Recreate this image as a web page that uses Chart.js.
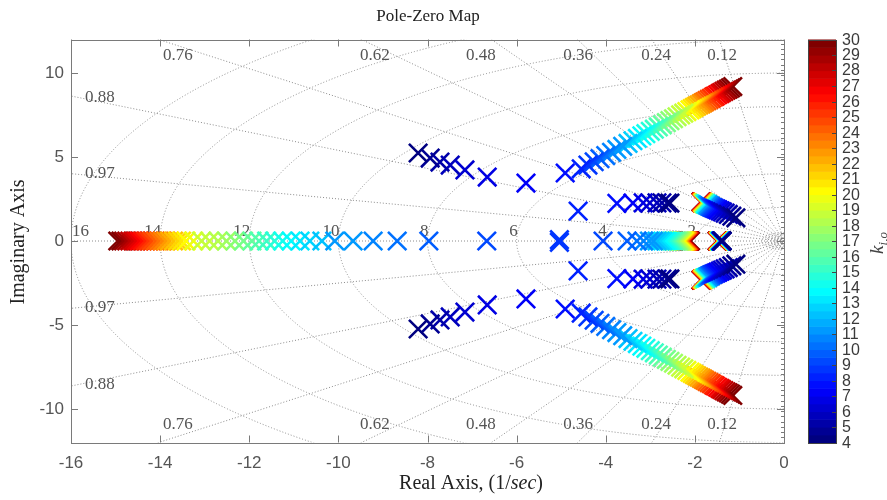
<!DOCTYPE html>
<html>
<head>
<meta charset="utf-8">
<script src="https://cdn.jsdelivr.net/npm/chart.js@4.4.1/dist/chart.umd.min.js"></script>
<style>
  html, body { margin: 0; padding: 0; background: #fff; }
  #wrap { width: 887px; height: 500px; }
</style>
</head>
<body>
<div id="wrap"><canvas id="pz"></canvas></div>
<script>
// gain levels used for the colour of every pole
const kLevels = [4, 4.5, 5, 5.5, 6, 6.5, 7, 7.5, 8, 8.5, 9, 9.5, 10, 10.5, 11, 11.5, 12, 12.5,
  13, 13.5, 14, 14.5, 15, 15.5, 16, 16.5, 17, 17.5, 18, 18.5, 19, 19.5, 20, 20.5, 21, 21.5,
  22, 22.5, 23, 23.5, 24, 24.5, 25, 25.5, 26, 26.5, 27, 27.5, 28, 28.5, 29, 29.5, 30];

// long diagonal pair (k = 4 .. 30), imaginary part shown for the upper pole
const diagRe = [-8.21, -7.94, -7.72, -7.49, -7.16, -6.66, -5.79, -4.91,
  -4.55, -4.40, -4.26, -4.13, -4.00, -3.87, -3.75, -3.62, -3.50, -3.39,
  -3.29, -3.19, -3.10, -3.00, -2.91, -2.82, -2.73, -2.64, -2.56, -2.48,
  -2.40, -2.32, -2.25, -2.18, -2.11, -2.06, -2.01, -1.96, -1.91, -1.86,
  -1.82, -1.78, -1.73, -1.68, -1.63, -1.58, -1.54, -1.49, -1.44, -1.40,
  -1.35, -1.30, -1.25, -1.20, -1.15];
const diagIm = [5.24, 4.94, 4.70, 4.52, 4.23, 3.81, 3.45, 4.05,
  4.30, 4.52, 4.72, 4.90, 5.09, 5.28, 5.45, 5.64, 5.81, 5.97,
  6.11, 6.26, 6.39, 6.53, 6.66, 6.79, 6.92, 7.05, 7.17, 7.28,
  7.40, 7.51, 7.61, 7.71, 7.81, 7.89, 7.96, 8.03, 8.10, 8.17,
  8.23, 8.29, 8.36, 8.43, 8.50, 8.58, 8.63, 8.71, 8.78, 8.84,
  8.91, 8.98, 9.05, 9.12, 9.20];

// pair that runs left at Im ~ 2.3 and meets the real axis (k = 4 .. 8.5)
const rowRe = [-2.56, -2.62, -2.74, -2.85, -3.01, -3.16, -3.39, -3.75, -4.62, -5.04];
const rowIm = [2.26, 2.26, 2.27, 2.27, 2.27, 2.27, 2.26, 2.24, 1.78, 0.08];

// real poles after the break-in point (k = 9 .. 30)
const realLeftRe = [-6.67, -7.97, -8.68, -9.22, -9.67, -10.08, -10.37, -10.64, -10.86,
  -11.06, -11.25, -11.43, -11.61, -11.78, -11.94,
  -12.13, -12.32, -12.51, -12.70, -12.89, -13.07, -13.25, -13.42,
  -13.52, -13.61, -13.70, -13.79, -13.87, -13.95, -14.03, -14.11, -14.19, -14.26,
  -14.33, -14.40, -14.47, -14.54, -14.61, -14.68, -14.75, -14.82, -14.88, -14.95];
const realRightRe = [-4.06, -3.52, -3.30, -3.15, -3.02, -2.93, -2.85, -2.78, -2.72,
  -2.66, -2.61, -2.56, -2.52, -2.48, -2.45,
  -2.41, -2.38, -2.355, -2.33, -2.31, -2.29, -2.27, -2.25,
  -2.24, -2.23, -2.22, -2.21, -2.20, -2.19, -2.18, -2.175, -2.17, -2.165,
  -2.16, -2.155, -2.15, -2.145, -2.14, -2.135, -2.13, -2.12, -2.11, -2.10];

// slow real pole near -1.4 (k = 4 .. 30)
const slowRe = [-1.39, -1.39, -1.39, -1.395, -1.395, -1.40, -1.40, -1.40, -1.405, -1.405,
  -1.41, -1.41, -1.41, -1.415, -1.415, -1.42, -1.42, -1.42, -1.425, -1.425,
  -1.43, -1.43, -1.43, -1.435, -1.435, -1.44, -1.44, -1.44, -1.445, -1.445,
  -1.45, -1.45, -1.45, -1.455, -1.455, -1.46, -1.46, -1.46, -1.465, -1.465,
  -1.47, -1.47, -1.47, -1.475, -1.475, -1.48, -1.48, -1.485, -1.485, -1.49,
  -1.49, -1.495, -1.50];

// slow complex pair near -1.5 +/- 2j (k = 4 .. 30)
const nearRe = [-1.08, -1.17, -1.25, -1.32, -1.38, -1.43, -1.48, -1.52, -1.56, -1.59,
  -1.62, -1.64, -1.66, -1.67, -1.69, -1.70, -1.71, -1.72, -1.73, -1.74,
  -1.75, -1.755, -1.76, -1.765, -1.77, -1.775, -1.78, -1.785, -1.79, -1.795,
  -1.80, -1.803, -1.806, -1.809, -1.812, -1.815, -1.818, -1.821, -1.824, -1.827,
  -1.83, -1.833, -1.836, -1.839, -1.842, -1.844, -1.846, -1.848, -1.85, -1.852,
  -1.854, -1.856, -1.858];
const nearIm = [1.38, 1.48, 1.58, 1.66, 1.73, 1.79, 1.85, 1.90, 1.94, 1.98,
  2.01, 2.04, 2.07, 2.09, 2.11, 2.13, 2.15, 2.16, 2.17, 2.18,
  2.19, 2.20, 2.21, 2.215, 2.22, 2.225, 2.23, 2.235, 2.24, 2.245,
  2.25, 2.255, 2.26, 2.265, 2.27, 2.275, 2.28, 2.283, 2.286, 2.289,
  2.292, 2.295, 2.298, 2.30, 2.303, 2.306, 2.309, 2.312, 2.315, 2.318,
  2.32, 2.322, 2.324];

// axes, grid and colour bar
const xTicks = [-16, -14, -12, -10, -8, -6, -4, -2, 0];
const yTicks = [-10, -5, 0, 5, 10];
const cbTicks = [4, 5, 6, 7, 8, 9, 10, 11, 12, 13, 14, 15, 16, 17, 18, 19, 20,
  21, 22, 23, 24, 25, 26, 27, 28, 29, 30];
const wnCircles = [0.1, 0.2, 0.3, 0.4, 0.5, 2, 4, 6, 8, 10, 12, 14, 16];
const wnLabels = [2, 4, 6, 8, 10, 12, 14, 16];
const zetaLines = [0.12, 0.24, 0.36, 0.48, 0.62, 0.76, 0.88, 0.97];
const K_MIN = 4, K_MAX = 30, NCOL = 52;

function jet(t) {
  const c = v => Math.round(255 * Math.max(0, Math.min(1, v)));
  return 'rgb(' + c(1.5 - Math.abs(4 * t - 3)) + ',' + c(1.5 - Math.abs(4 * t - 2)) + ',' + c(1.5 - Math.abs(4 * t - 1)) + ')';
}
function colorOf(k) {
  const i = Math.min(NCOL - 1, Math.floor((k - K_MIN) / (K_MAX - K_MIN) * NCOL));
  return jet(i / (NCOL - 1));
}

// collect poles; conjugate partners get the negated imaginary part
const poles = [];
function addBranch(re, im, kStart) {
  re.forEach((r, i) => {
    const k = kLevels[kStart + i];
    if (im) {
      poles.push({ x: r, y: im[i], k: k });
      poles.push({ x: r, y: -im[i], k: k });
    } else {
      poles.push({ x: r, y: 0, k: k });
    }
  });
}
addBranch(diagRe, diagIm, 0);
addBranch(rowRe, rowIm, 0);
addBranch(realLeftRe, null, 10);
addBranch(realRightRe, null, 10);
addBranch(slowRe, null, 0);
addBranch(nearRe, nearIm, 0);
// high gains first so the low gains end up on top
poles.sort((a, b) => b.k - a.k);

const SERIF = '"Liberation Serif", "Times New Roman", serif';
const SANS = '"Liberation Sans", Arial, sans-serif';

const sgrid = {
  id: 'sgrid',
  beforeDatasetsDraw(chart) {
    const ctx = chart.ctx, a = chart.chartArea;
    const sx = chart.scales.x, sy = chart.scales.y;
    const ox = sx.getPixelForValue(0), oy = sy.getPixelForValue(0);
    ctx.save();
    ctx.beginPath();
    ctx.rect(a.left, a.top, a.right - a.left, a.bottom - a.top);
    ctx.clip();
    ctx.strokeStyle = '#8c8c8c';
    ctx.lineWidth = 1;
    ctx.setLineDash([1, 2]);
    wnCircles.forEach(w => {
      ctx.beginPath();
      ctx.ellipse(ox, oy, ox - sx.getPixelForValue(-w), oy - sy.getPixelForValue(w), 0, 0, Math.PI * 2);
      ctx.stroke();
    });
    zetaLines.forEach(z => {
      const s = Math.sqrt(1 - z * z);
      [1, -1].forEach(sg => {
        ctx.beginPath();
        ctx.moveTo(ox, oy);
        ctx.lineTo(sx.getPixelForValue(-z * 40), sy.getPixelForValue(sg * s * 40));
        ctx.stroke();
      });
    });
    ctx.beginPath();
    ctx.moveTo(a.left, oy);
    ctx.lineTo(ox, oy);
    ctx.stroke();
    ctx.setLineDash([]);

    // grid labels
    ctx.fillStyle = '#555';
    ctx.font = '17px ' + SERIF;
    ctx.textBaseline = 'middle';
    ctx.textAlign = 'center';
    const top = [[0.76, -13.6], [0.62, -9.18], [0.48, -6.80], [0.36, -4.62], [0.24, -2.87], [0.12, -1.39]];
    top.forEach(([z, x]) => {
      ctx.fillText(z.toFixed(2), sx.getPixelForValue(x), sy.getPixelForValue(11.07));
      ctx.fillText(z.toFixed(2), sx.getPixelForValue(x), sy.getPixelForValue(-10.95));
    });
    [[0.88, 8.57], [0.97, 3.99]].forEach(([z, y]) => {
      ctx.fillText(z.toFixed(2), sx.getPixelForValue(-15.35), sy.getPixelForValue(y));
      ctx.fillText(z.toFixed(2), sx.getPixelForValue(-15.35), sy.getPixelForValue(-y));
    });
    ctx.textBaseline = 'alphabetic';
    wnLabels.forEach(w => {
      let px = sx.getPixelForValue(-w) + 1;
      if (px - ctx.measureText(String(w)).width < a.left) {
        ctx.textAlign = 'left';
        px = a.left + 1;
      } else {
        ctx.textAlign = 'right';
      }
      ctx.fillText(String(w), px, oy - 5);
    });
    ctx.restore();
  },
  afterDraw(chart) {
    const ctx = chart.ctx, a = chart.chartArea;
    const sx = chart.scales.x, sy = chart.scales.y, cb = chart.scales.cb;
    ctx.save();
    // axes box and inward ticks
    ctx.strokeStyle = '#7a7a7a';
    ctx.lineWidth = 1;
    ctx.strokeRect(Math.round(a.left) + 0.5, Math.round(a.top) + 0.5, Math.round(a.right - a.left), Math.round(a.bottom - a.top));
    ctx.beginPath();
    xTicks.forEach(v => {
      const px = Math.round(sx.getPixelForValue(v)) + 0.5;
      ctx.moveTo(px, a.bottom); ctx.lineTo(px, a.bottom - 7);
      ctx.moveTo(px, a.top); ctx.lineTo(px, a.top + 7);
    });
    yTicks.forEach(v => {
      const py = Math.round(sy.getPixelForValue(v)) + 0.5;
      ctx.moveTo(a.left, py); ctx.lineTo(a.left + 7, py);
      ctx.moveTo(a.right, py); ctx.lineTo(a.right - 7, py);
    });
    for (let v = -12; v <= 12; v += 0.3125) {
      const py = Math.round(sy.getPixelForValue(v)) + 0.5;
      ctx.moveTo(a.right, py); ctx.lineTo(a.right - 3, py);
    }
    ctx.stroke();

    // colour bar
    const x0 = 808, w = 28;
    for (let i = 0; i < NCOL; i++) {
      const kLo = K_MIN + i * (K_MAX - K_MIN) / NCOL;
      const kHi = K_MIN + (i + 1) * (K_MAX - K_MIN) / NCOL;
      const yT = cb.getPixelForValue(kHi), yB = cb.getPixelForValue(kLo);
      ctx.fillStyle = jet(i / (NCOL - 1));
      ctx.fillRect(x0, yT, w, yB - yT + 0.6);
    }
    ctx.strokeStyle = '#444';
    ctx.strokeRect(x0 + 0.5, Math.round(cb.top) + 0.5, w, Math.round(cb.bottom - cb.top));
    ctx.fillStyle = '#3a3a3a';
    ctx.font = '16px ' + SANS;
    ctx.textAlign = 'left';
    ctx.textBaseline = 'middle';
    ctx.beginPath();
    cbTicks.forEach(v => {
      const py = Math.round(cb.getPixelForValue(v)) + 0.5;
      ctx.moveTo(x0 + w, py); ctx.lineTo(x0 + w - 4, py);
      ctx.fillText(String(v), x0 + w + 6, py);
    });
    ctx.stroke();
    // colour bar label k_{i,o}
    ctx.translate(877, 243);
    ctx.rotate(-Math.PI / 2);
    ctx.fillStyle = '#444';
    ctx.textAlign = 'left';
    ctx.textBaseline = 'alphabetic';
    ctx.font = 'italic 19px ' + SERIF;
    const kw = ctx.measureText('k').width;
    ctx.font = 'italic 13px ' + SERIF;
    const sw = ctx.measureText('i,o').width;
    const start = -(kw + sw) / 2;
    ctx.font = 'italic 19px ' + SERIF;
    ctx.fillText('k', start, 6);
    ctx.font = 'italic 13px ' + SERIF;
    ctx.fillText('i,o', start + kw, 10);
    ctx.restore();

    // title and axis labels
    ctx.save();
    ctx.fillStyle = '#222';
    ctx.textBaseline = 'middle';
    ctx.textAlign = 'center';
    ctx.font = '17px ' + SERIF;
    ctx.fillText('Pole-Zero Map', 428, 17);
    ctx.font = '20px ' + SERIF;
    const p1 = 'Real Axis, (1/', p2 = 'sec', p3 = ')';
    const w1 = ctx.measureText(p1).width, w3 = ctx.measureText(p3).width;
    ctx.font = 'italic 20px ' + SERIF;
    const w2 = ctx.measureText(p2).width;
    let xs = 471 - (w1 + w2 + w3) / 2;
    ctx.textAlign = 'left';
    ctx.font = '20px ' + SERIF;
    ctx.fillText(p1, xs, 484);
    ctx.font = 'italic 20px ' + SERIF;
    ctx.fillText(p2, xs + w1, 484);
    ctx.font = '20px ' + SERIF;
    ctx.fillText(p3, xs + w1 + w2, 484);
    ctx.translate(19, 242);
    ctx.rotate(-Math.PI / 2);
    ctx.textAlign = 'center';
    ctx.fillText('Imaginary Axis', 0, 0);
    ctx.restore();
  }
};

new Chart(document.getElementById('pz'), {
  type: 'scatter',
  data: {
    datasets: [{
      data: poles,
      pointStyle: 'crossRot',
      pointRadius: 13,
      pointBorderWidth: 2.6,
      pointBorderColor: c => colorOf(c.raw ? c.raw.k : K_MIN),
      pointBackgroundColor: c => colorOf(c.raw ? c.raw.k : K_MIN),
      showLine: false,
      clip: false
    }]
  },
  options: {
    responsive: true,
    maintainAspectRatio: false,
    animation: false,
    events: [],
    layout: { padding: { top: 39.5, right: 103, bottom: 0, left: 0 } },
    plugins: { legend: { display: false }, tooltip: { enabled: false }, title: { display: false } },
    scales: {
      x: {
        type: 'linear', min: -16, max: 0,
        afterBuildTicks: s => { s.ticks = xTicks.map(v => ({ value: v })); },
        afterFit: s => { s.height = 57.5; },
        grid: { display: false, drawTicks: false },
        border: { display: false },
        ticks: { padding: 11, color: '#555', font: { family: SANS, size: 17 } }
      },
      y: {
        type: 'linear', min: -12, max: 12,
        afterBuildTicks: s => { s.ticks = yTicks.map(v => ({ value: v })); },
        afterFit: s => { s.width = 71; },
        grid: { display: false, drawTicks: false },
        border: { display: false },
        ticks: { padding: 7, color: '#555', font: { family: SANS, size: 17 } }
      },
      cb: {
        type: 'linear', position: 'right', display: false, min: K_MIN, max: K_MAX
      }
    }
  },
  plugins: [sgrid]
});
</script>
</body>
</html>
